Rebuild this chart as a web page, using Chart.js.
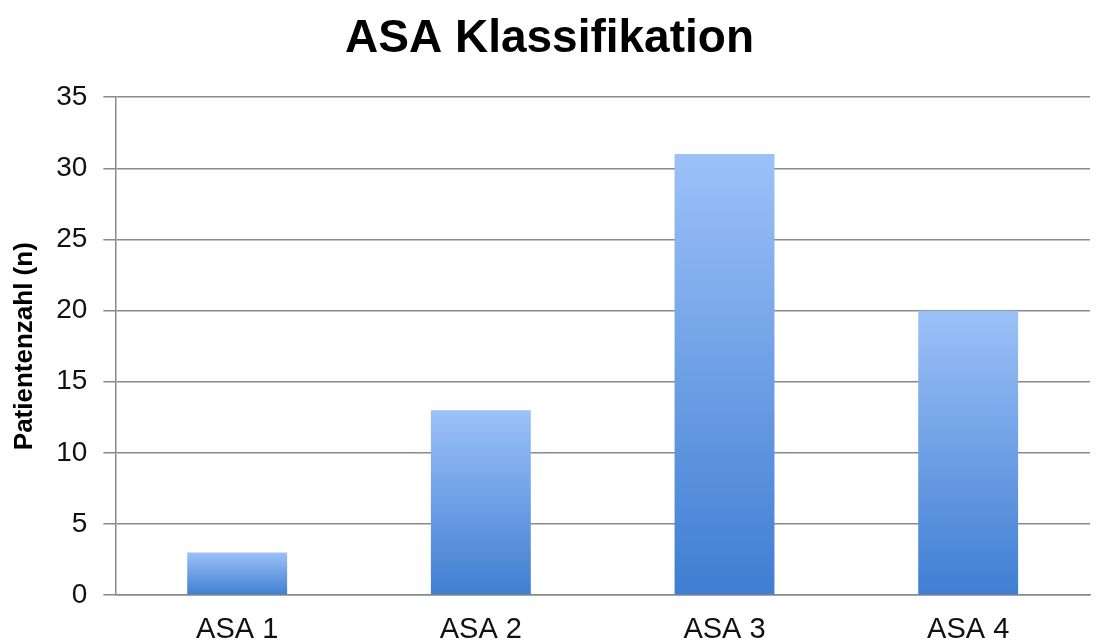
<!DOCTYPE html>
<html>
<head>
<meta charset="utf-8">
<script src="https://cdn.jsdelivr.net/npm/chart.js@4"></script>
<style>
  html, body { margin: 0; padding: 0; background: #ffffff; }
  #wrap { width: 1104px; height: 642px; position: relative; }
</style>
</head>
<body>
<div id="wrap"><canvas id="c" width="1104" height="642"></canvas></div>
<script>
const categories = ['ASA 1', 'ASA 2', 'ASA 3', 'ASA 4'];
const patients = [3, 13, 31, 20];
const yTicks = [0, 5, 10, 15, 20, 25, 30, 35];

const FONT = 'Liberation Sans, Arial, Helvetica, sans-serif';

// vertical gradient per bar, light on top, deeper blue at the base
function barFill(ctx) {
  const chart = ctx.chart;
  const yScale = chart.scales && chart.scales.y;
  if (!yScale || !chart.chartArea) return '#6a9ae6';
  const v = ctx.raw;
  const top = yScale.getPixelForValue(v);
  const base = yScale.getPixelForValue(0);
  if (!isFinite(top) || !isFinite(base) || top === base) return '#6a9ae6';
  const g = chart.ctx.createLinearGradient(0, top, 0, base);
  g.addColorStop(0, '#9cc1f8');
  g.addColorStop(1, '#3f7ed2');
  return g;
}

new Chart(document.getElementById('c'), {
  type: 'bar',
  data: {
    labels: categories,
    datasets: [{
      data: patients,
      backgroundColor: barFill,
      borderWidth: 0,
      categoryPercentage: 0.82,
      barPercentage: 0.5
    }]
  },
  options: {
    responsive: false,
    animation: false,
    layout: { padding: { top: 12, right: 14, bottom: -14, left: 9 } },
    plugins: {
      legend: { display: false },
      tooltip: { enabled: false },
      title: {
        display: true,
        text: 'ASA Klassifikation',
        color: '#000000',
        font: { family: FONT, size: 46, weight: 'bold' },
        padding: { top: 0, bottom: 30 }
      }
    },
    scales: {
      x: {
        grid: { display: false },
        border: { display: true, color: '#8a8a8a', width: 1.5 },
        ticks: {
          color: '#111111',
          padding: 9,
          font: { family: FONT, size: 29 }
        }
      },
      y: {
        min: 0,
        max: 35,
        afterBuildTicks: (axis) => { axis.ticks = yTicks.map(v => ({ value: v })); },
        grid: { color: '#8a8a8a', lineWidth: 1.5, tickLength: 12 },
        border: { display: true, color: '#8a8a8a', width: 1.5 },
        ticks: {
          color: '#111111',
          padding: 16,
          font: { family: FONT, size: 28 }
        },
        title: {
          display: true,
          text: 'Patientenzahl (n)',
          color: '#000000',
          padding: { top: 0, bottom: 0 },
          font: { family: FONT, size: 26, weight: 'bold' }
        }
      }
    }
  }
});
</script>
</body>
</html>
